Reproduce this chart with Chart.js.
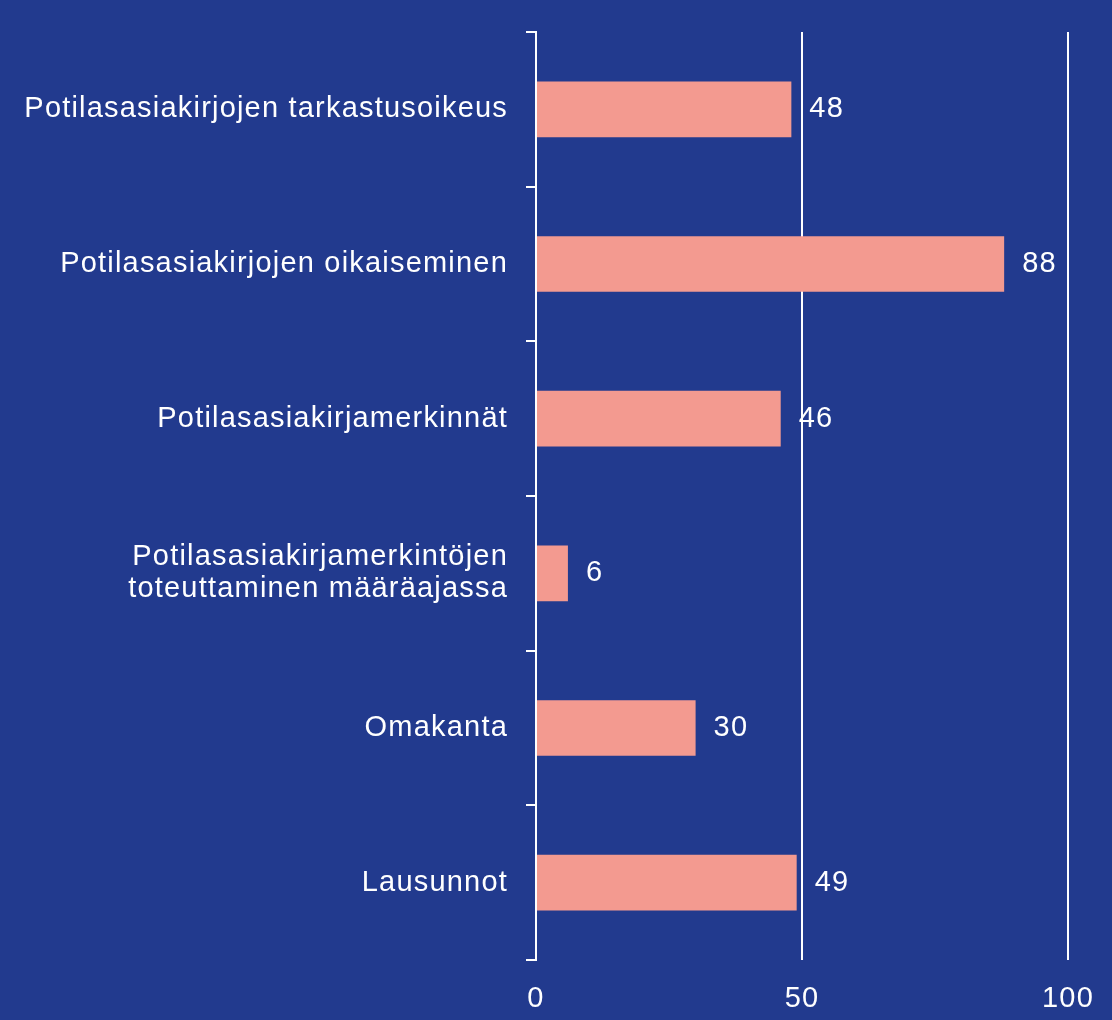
<!DOCTYPE html>
<html>
<head>
<meta charset="utf-8">
<script src="https://cdn.jsdelivr.net/npm/chart.js@4"></script>
<style>
  html, body { margin: 0; padding: 0; background: #223a8e; }
  #wrap { width: 1112px; height: 1020px; position: relative; }
</style>
</head>
<body>
<div id="wrap"><canvas id="myChart"></canvas></div>
<script>
const categories = [
  "Potilasasiakirjojen tarkastusoikeus",
  "Potilasasiakirjojen oikaiseminen",
  "Potilasasiakirjamerkinnät",
  ["Potilasasiakirjamerkintöjen", "toteuttaminen määräajassa"],
  "Omakanta",
  "Lausunnot",
];
const values = [48, 88, 46, 6, 30, 49];
const xTicks = [0, 50, 100];

const FONT = "'Liberation Sans', Arial, sans-serif";
const SPACING = "1.2px";

// the original text is a bit wider than plain Arial, so open it up a little
const wideText = {
  id: "wideText",
  beforeLayout(chart) {
    chart.ctx.letterSpacing = SPACING;
  },
  beforeDraw(chart) {
    chart.ctx.letterSpacing = SPACING;
  },
};

// draws the numbers to the right of each bar
const valueLabels = {
  id: "valueLabels",
  afterDatasetsDraw(chart) {
    const ctx = chart.ctx;
    const meta = chart.getDatasetMeta(0);
    ctx.save();
    ctx.letterSpacing = SPACING;
    ctx.fillStyle = "#ffffff";
    ctx.font = "29px " + FONT;
    ctx.textAlign = "left";
    ctx.textBaseline = "middle";
    meta.data.forEach((bar, i) => {
      ctx.fillText(String(values[i]), bar.x + 18, bar.y);
    });
    ctx.restore();
  },
};

const chart = new Chart(document.getElementById("myChart"), {
  type: "bar",
  plugins: [wideText, valueLabels],
  data: {
    labels: categories,
    datasets: [
      {
        data: values,
        backgroundColor: "#f39a90",
        barPercentage: 0.36,
        categoryPercentage: 1,
      },
    ],
  },
  options: {
    indexAxis: "y",
    responsive: true,
    maintainAspectRatio: false,
    animation: false,
    layout: { padding: { top: 32, right: 44, left: 0, bottom: 0 } },
    plugins: {
      legend: { display: false },
      tooltip: { enabled: false },
    },
    scales: {
      x: {
        min: 0,
        max: 100,
        afterBuildTicks(scale) {
          scale.ticks = xTicks.map((v) => ({ value: v }));
        },
        afterFit(scale) {
          scale.height = 60;
          scale.paddingLeft = 0;
          scale.paddingRight = 0;
        },
        grid: { color: "#ffffff", lineWidth: 2, drawTicks: false },
        border: { display: false },
        ticks: {
          color: "#ffffff",
          font: { family: FONT, size: 29 },
          padding: 22,
          maxRotation: 0,
        },
      },
      y: {
        afterFit(scale) {
          scale.width = 536;
          scale.paddingTop = 0;
          scale.paddingBottom = 0;
        },
        grid: {
          offset: true,
          drawOnChartArea: false,
          color: "#ffffff",
          lineWidth: 2,
          tickLength: 10,
        },
        border: { display: true, color: "#ffffff", width: 2 },
        ticks: {
          color: "#ffffff",
          font: { family: FONT, size: 29, lineHeight: 1.1 },
          padding: 18,
        },
      },
    },
  },
});
</script>
</body>
</html>
